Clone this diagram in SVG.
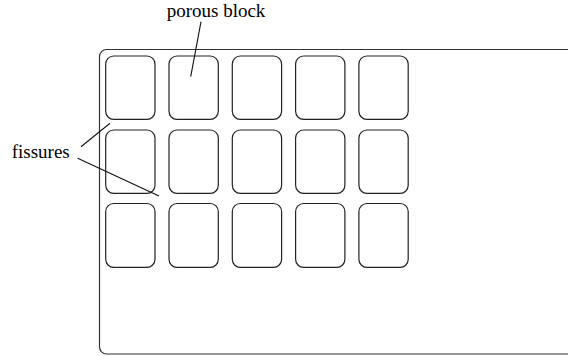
<svg xmlns="http://www.w3.org/2000/svg" width="568" height="356" viewBox="0 0 568 356">
<style>
.blk{fill:none;stroke:#222;stroke-width:1.2}
.outer{fill:none;stroke:#333;stroke-width:1.2}
.ld{stroke:#111;stroke-width:1.1;fill:none}
text{font-family:"Liberation Serif","Times New Roman",serif;font-size:19px;fill:#000}
</style>
<rect width="568" height="356" fill="#fff"/>
<g id="container"><rect class="outer" x="99.5" y="49.5" width="490" height="304.5" rx="7"/></g>
<g id="blocks">
<g id="b11"><rect class="blk" x="105.7" y="56" width="49.3" height="63.3" rx="8"/></g>
<g id="b12"><rect class="blk" x="169" y="56" width="49.3" height="63.3" rx="8"/></g>
<g id="b13"><rect class="blk" x="232.3" y="56" width="49.3" height="63.3" rx="8"/></g>
<g id="b14"><rect class="blk" x="295.6" y="56" width="49.3" height="63.3" rx="8"/></g>
<g id="b15"><rect class="blk" x="358.9" y="56" width="49.3" height="63.3" rx="8"/></g>
<g id="b21"><rect class="blk" x="105.7" y="130" width="49.3" height="63.3" rx="8"/></g>
<g id="b22"><rect class="blk" x="169" y="130" width="49.3" height="63.3" rx="8"/></g>
<g id="b23"><rect class="blk" x="232.3" y="130" width="49.3" height="63.3" rx="8"/></g>
<g id="b24"><rect class="blk" x="295.6" y="130" width="49.3" height="63.3" rx="8"/></g>
<g id="b25"><rect class="blk" x="358.9" y="130" width="49.3" height="63.3" rx="8"/></g>
<g id="b31"><rect class="blk" x="105.7" y="203.5" width="49.3" height="63.8" rx="8"/></g>
<g id="b32"><rect class="blk" x="169" y="203.5" width="49.3" height="63.8" rx="8"/></g>
<g id="b33"><rect class="blk" x="232.3" y="203.5" width="49.3" height="63.8" rx="8"/></g>
<g id="b34"><rect class="blk" x="295.6" y="203.5" width="49.3" height="63.8" rx="8"/></g>
<g id="b35"><rect class="blk" x="358.9" y="203.5" width="49.3" height="63.8" rx="8"/></g>
</g>
<g id="connectors">
<line class="ld" x1="201" y1="21.7" x2="190.7" y2="76.7"/>
<line class="ld" x1="81" y1="146.7" x2="110" y2="123.3"/>
<line class="ld" x1="77.7" y1="158.3" x2="159" y2="196"/>
</g>
<g id="labels">
<text x="216" y="17" text-anchor="middle">porous block</text>
<text x="11.7" y="158.3">fissures</text>
</g>
</svg>
